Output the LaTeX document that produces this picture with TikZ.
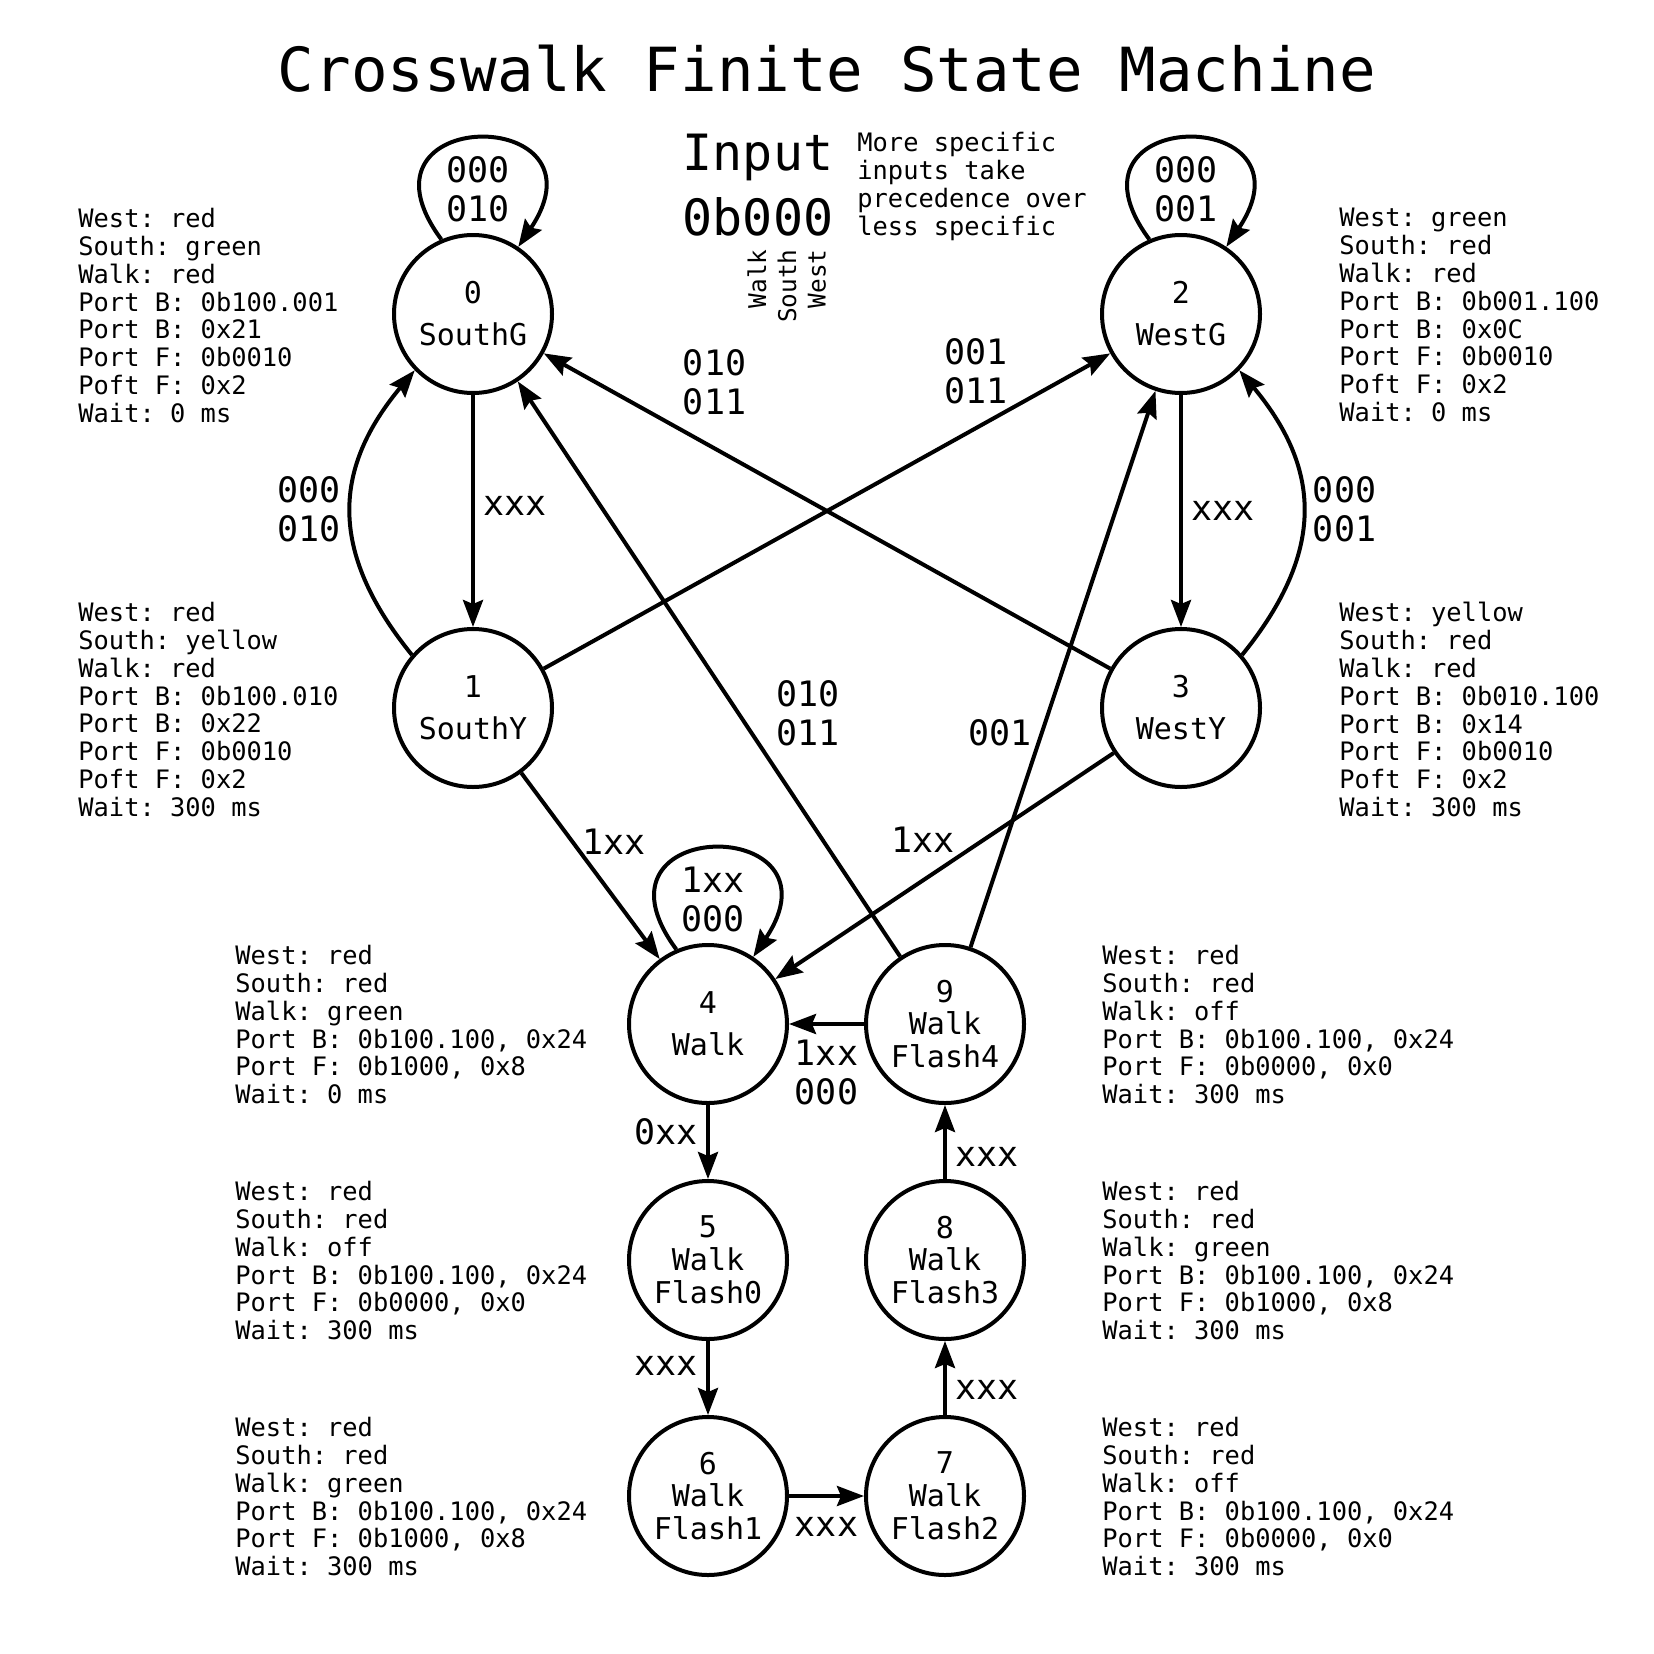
\documentclass[tikz,border=0pt]{standalone}
\usepackage{fontspec}
\setmainfont{DejaVu Sans Mono}
\usetikzlibrary{arrows.meta}
\frenchspacing

\newcommand{\titlefont}{\fontsize{30.4pt}{34pt}\selectfont}
\newcommand{\inputfont}{\fontsize{25pt}{30pt}\selectfont}
\newcommand{\bitfont}{\fontsize{12.2pt}{14pt}\selectfont}
\newcommand{\infofont}{\fontsize{12.7pt}{13.9pt}\selectfont}
\newcommand{\statefont}{\fontsize{15pt}{16.4pt}\selectfont}
\newcommand{\labelfont}{\fontsize{17.5pt}{19.5pt}\selectfont}

\tikzset{
  snode/.style = {circle, draw=black, line width=2pt, minimum size=79pt, inner sep=0pt, align=center, font=\statefont},
  info/.style = {anchor=north west, align=left, inner sep=0pt, font=\infofont},
  bitname/.style = {rotate=90, anchor=east, inner sep=0pt, font=\bitfont},
  elabel/.style = {align=center, inner sep=4pt, font=\labelfont},
  tarrow/.style = {-{Stealth[length=13.5pt, width=10pt, inset=2pt]}, line width=2pt}
}

\begin{document}
\begin{tikzpicture}[x=0.5pt, y=-0.5pt]
\useasboundingbox[fill=white] (0,0) rectangle (1654,1654);

% title and input key
\node[font=\titlefont, anchor=base] (title) at (827,91) {Crosswalk Finite State Machine};
\node[font=\inputfont, anchor=base] (inp) at (758,170) {Input};
\node[font=\inputfont, anchor=base] (inpval) at (758,235) {0b000};
\node[bitname] (bwalk) at (757,249) {Walk};
\node[bitname] (bsouth) at (787,249) {South};
\node[bitname] (bwest) at (817,249) {West};
\node[info] (note) at (857,132) {More specific\\inputs take\\precedence over\\less specific};

% states
\node[snode] (s0) at (473,314) {0\\[4.6pt]SouthG};
\node[snode] (s1) at (473,708) {1\\[4.6pt]SouthY};
\node[snode] (s2) at (1181,314) {2\\[4.6pt]WestG};
\node[snode] (s3) at (1181,708) {3\\[4.6pt]WestY};
\node[snode] (s4) at (708,1024) {4\\[4.6pt]Walk};
\node[snode] (s5) at (708,1260) {5\\Walk\\Flash0};
\node[snode] (s6) at (708,1496) {6\\Walk\\Flash1};
\node[snode] (s7) at (945,1496) {7\\Walk\\Flash2};
\node[snode] (s8) at (945,1260) {8\\Walk\\Flash3};
\node[snode] (s9) at (945,1024) {9\\Walk\\Flash4};

% outputs of each state
\node[info] (i0) at (78,208) {West: red\\South: green\\Walk: red\\Port B: 0b100.001\\Port B: 0x21\\Port F: 0b0010\\Poft F: 0x2\\Wait: 0 ms};
\node[info] (i1) at (78,602) {West: red\\South: yellow\\Walk: red\\Port B: 0b100.010\\Port B: 0x22\\Port F: 0b0010\\Poft F: 0x2\\Wait: 300 ms};
\node[info] (i2) at (1339,208) {West: green\\South: red\\Walk: red\\Port B: 0b001.100\\Port B: 0x0C\\Port F: 0b0010\\Poft F: 0x2\\Wait: 0 ms};
\node[info] (i3) at (1339,602) {West: yellow\\South: red\\Walk: red\\Port B: 0b010.100\\Port B: 0x14\\Port F: 0b0010\\Poft F: 0x2\\Wait: 300 ms};
\node[info] (i4) at (235,945) {West: red\\South: red\\Walk: green\\Port B: 0b100.100, 0x24\\Port F: 0b1000, 0x8\\Wait: 0 ms};
\node[info] (i5) at (235,1181) {West: red\\South: red\\Walk: off\\Port B: 0b100.100, 0x24\\Port F: 0b0000, 0x0\\Wait: 300 ms};
\node[info] (i6) at (235,1417) {West: red\\South: red\\Walk: green\\Port B: 0b100.100, 0x24\\Port F: 0b1000, 0x8\\Wait: 300 ms};
\node[info] (i9) at (1102,945) {West: red\\South: red\\Walk: off\\Port B: 0b100.100, 0x24\\Port F: 0b0000, 0x0\\Wait: 300 ms};
\node[info] (i8) at (1102,1181) {West: red\\South: red\\Walk: green\\Port B: 0b100.100, 0x24\\Port F: 0b1000, 0x8\\Wait: 300 ms};
\node[info] (i7) at (1102,1417) {West: red\\South: red\\Walk: off\\Port B: 0b100.100, 0x24\\Port F: 0b0000, 0x0\\Wait: 300 ms};

% self loops
\draw[tarrow] (s0.113) .. controls +(-100,-135) and +(96,-143) .. (s0.56)
  node[elabel, below=4pt, pos=0.5] {000\\010};
\draw[tarrow] (s2.113) .. controls +(-100,-135) and +(96,-143) .. (s2.56)
  node[elabel, below=4pt, pos=0.5] {000\\001};
\draw[tarrow] (s4.113) .. controls +(-100,-135) and +(96,-143) .. (s4.56)
  node[elabel, below=4pt, pos=0.5] {1xx\\000};

% south and west lights
\draw[tarrow] (s0) -- node[elabel, right, pos=0.48] {xxx} (s1);
\draw[tarrow] (s1.139) .. controls +(-86,-106) and +(-80,96) .. (s0.224)
  node[elabel, left, pos=0.5] {000\\010};
\draw[tarrow] (s2) -- node[elabel, right, pos=0.5] {xxx} (s3);
\draw[tarrow] (s3.41) .. controls +(86,-106) and +(80,96) .. (s2.-44)
  node[elabel, right, pos=0.5] {000\\001};
\draw[tarrow] (s1) -- node[elabel, above left, inner sep=1pt, pos=0.826] {001\\011} (s2);
\draw[tarrow] (s3) -- node[elabel, above right, pos=0.772] {010\\011} (s0);

% walk and flashing
\draw[tarrow] (s1) -- node[elabel, right, pos=0.367] {1xx} (s4);
\draw[tarrow] (s3) -- node[elabel, above left, inner sep=1pt, pos=0.457] {1xx} (s4);
\draw[tarrow] (s9) -- node[elabel, above right, pos=0.349] {010\\011} (s0);
\draw[tarrow] (s9) -- node[elabel, left, pos=0.385] {001} (s2);
\draw[tarrow] (s9) -- node[elabel, below=3pt] {1xx\\000} (s4);
\draw[tarrow] (s4) -- node[elabel, left, pos=0.36] {0xx} (s5);
\draw[tarrow] (s5) -- node[elabel, left, pos=0.33] {xxx} (s6);
\draw[tarrow] (s6) -- node[elabel, below=5.5pt] {xxx} (s7);
\draw[tarrow] (s7) -- node[elabel, right, pos=0.34] {xxx} (s8);
\draw[tarrow] (s8) -- node[elabel, right, pos=0.3] {xxx} (s9);

\end{tikzpicture}
\end{document}
